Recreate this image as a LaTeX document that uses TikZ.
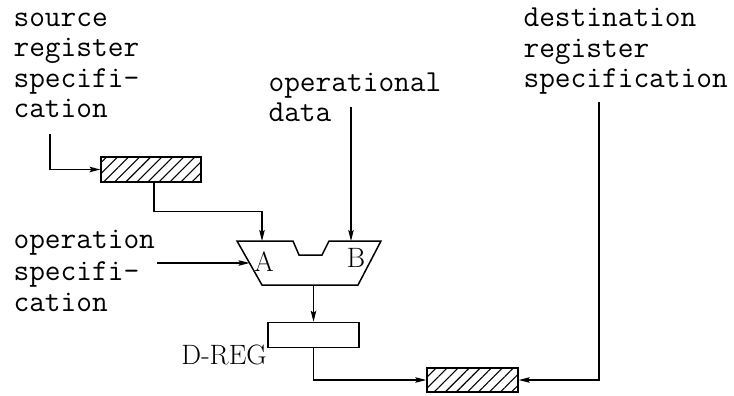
\documentclass[tikz,border=0pt]{standalone}
\usepackage{tikz}
\usetikzlibrary{arrows.meta, positioning, patterns.meta}

\begin{document}
\begin{tikzpicture}[x=1pt,y=-1pt,>={Stealth[length=11pt,width=5.5pt,inset=2pt]},line width=1.1pt]

\tikzset{reg/.style={draw, line width=1.5pt, inner sep=0pt, minimum height=25pt},
 hatched/.style={reg, pattern={Lines[angle=45,distance=7.8pt,line width=1.1pt]}},
 spec/.style={font=\ttfamily\fontsize{30.5}{30.5}\selectfont, align=left, anchor=base west, inner sep=0pt},
 port/.style={font=\fontsize{28}{28}\selectfont, inner sep=0pt}}

\useasboundingbox (0,0) rectangle (734,396);

    \node[spec] (srctxt) at (13,117.5) {source\\register\\specifi-\\cation};
    \node[spec] (datatxt) at (268,121.5) {operational\\data};
    \node[spec] (dsttxt) at (523,88) {destination\\register\\specification};
    \node[spec, font=\ttfamily\fontsize{30.5}{31.7}\selectfont] (optxt) at (13,311.7) {operation\\specifi-\\cation};

    \node[hatched, minimum width=100pt] (src) at (151,169.5) {};
    \node[hatched, minimum width=91pt, minimum height=24pt] (dst) at (472.5,380) {};
    \node[reg, minimum width=91pt] (dreg) at (313.5,335) {};
    \node[port, anchor=north east] (dreglbl) at ([yshift=4pt]dreg.south west) {D-REG};

    \draw[line width=1.5pt] (237,241) -- (293,241) -- (299,255) -- (322,255) -- (329,241)
        -- (381,241) -- (358,285) -- (262,285) -- cycle;
    \node[port] (alulblA) at (264,262) {A};
    \node[port] (alulblB) at (356,258) {B};

    \coordinate (alua) at (262,241);
    \coordinate (alub) at (351,241);
    \coordinate (aluop) at (249.5,263);
    \coordinate (aluo) at (313.5,285);
    \coordinate (srcin) at (50,134);
    \coordinate (datain) at (351,107);
    \coordinate (dstin) at (599,102);
    \coordinate (opin) at (157,263);

    \draw[->] (srcin) |- (src.west);
    \draw[->] ([xshift=3pt]src.south) -- ++(0,29) -| (alua);
    \draw[->] (datain) -- (alub);
    \draw[->] (opin) -- (aluop);
    \draw[->] (aluo) -- (dreg.north);
    \draw[->] (dreg.south) |- (dst.west);
    \draw[->] (dstin) |- (dst.east);

\end{tikzpicture}
\end{document}
